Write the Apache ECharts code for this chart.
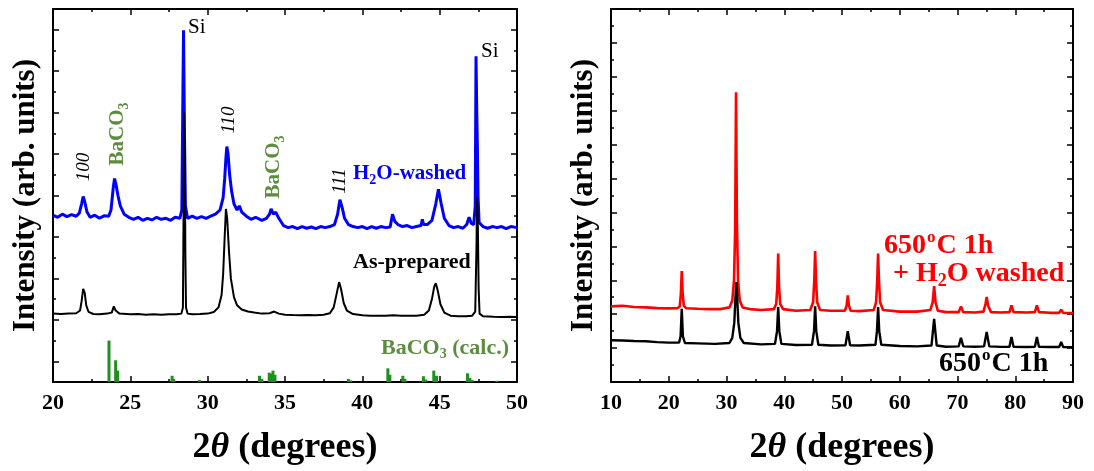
<!DOCTYPE html>
<html>
<head>
<meta charset="utf-8">
<script src="https://cdn.jsdelivr.net/npm/echarts@6/dist/echarts.min.js"></script>
<style>html,body{margin:0;background:#fff}#main{width:1094px;height:471px}</style>
</head>
<body>
<div id="main"></div>
<script>
// left panel: 2theta, intensity (arb.)
var washedLeft = [
  [20.0, 8.05], [20.3, 7.95], [20.6, 8.1], [20.9, 7.98], [21.2, 8.08], [21.5, 8.0], [21.7, 8.15], [21.85, 8.6],
  [21.95, 8.95], [22.05, 8.7], [22.2, 8.2], [22.4, 7.95], [22.7, 8.05], [23.0, 7.9], [23.3, 8.02], [23.6, 8.0],
  [23.75, 8.3], [23.9, 9.4], [23.98, 9.82], [24.08, 9.5], [24.2, 9.0], [24.35, 8.5], [24.6, 8.1], [24.9, 7.95],
  [25.2, 7.85], [25.5, 7.95], [25.8, 7.8], [26.1, 7.9], [26.4, 7.82], [26.7, 7.95], [27.0, 7.85], [27.3, 7.9],
  [27.6, 7.8], [27.9, 7.95], [28.2, 7.9], [28.33, 8.3], [28.4, 14.0], [28.44, 16.97], [28.5, 12.0], [28.56, 8.5],
  [28.7, 7.9], [29.0, 8.0], [29.3, 7.9], [29.6, 7.98], [29.9, 7.9], [30.2, 8.0], [30.5, 8.1], [30.8, 8.3],
  [31.0, 8.9], [31.1, 9.8], [31.18, 10.8], [31.24, 11.36], [31.32, 11.0], [31.42, 10.0], [31.55, 9.2], [31.7, 8.6],
  [31.9, 8.3], [32.05, 8.5], [32.2, 8.2], [32.5, 8.0], [32.8, 7.85], [33.1, 7.95], [33.5, 7.8], [33.8, 7.9],
  [34.0, 8.1], [34.1, 8.35], [34.25, 8.1], [34.4, 8.2], [34.6, 7.9], [34.9, 7.55], [35.2, 7.45], [35.5, 7.5],
  [35.8, 7.4], [36.1, 7.5], [36.4, 7.42], [36.7, 7.48], [37.0, 7.4], [37.3, 7.5], [37.6, 7.45], [37.9, 7.5],
  [38.2, 7.6], [38.4, 8.1], [38.55, 8.8], [38.7, 8.4], [38.85, 7.9], [39.1, 7.6], [39.4, 7.5], [39.7, 7.45],
  [40.0, 7.5], [40.3, 7.4], [40.6, 7.5], [40.9, 7.42], [41.2, 7.5], [41.5, 7.45], [41.8, 7.48], [41.95, 8.1],
  [42.1, 7.75], [42.3, 7.6], [42.6, 7.5], [42.9, 7.55], [43.2, 7.45], [43.5, 7.5], [43.8, 7.55], [43.88, 7.85],
  [43.96, 7.6], [44.2, 7.6], [44.5, 7.8], [44.75, 8.6], [44.92, 9.3], [45.1, 8.6], [45.3, 7.9], [45.6, 7.55],
  [45.9, 7.45], [46.2, 7.5], [46.5, 7.42], [46.75, 7.6], [46.9, 7.95], [47.05, 7.65], [47.2, 7.6], [47.3, 8.5],
  [47.35, 15.72], [47.4, 13.0], [47.44, 11.3], [47.48, 9.0], [47.55, 7.7], [47.8, 7.5], [48.1, 7.42], [48.4, 7.5],
  [48.7, 7.45], [49.0, 7.5], [49.3, 7.4], [49.6, 7.5], [50.0, 7.45]
];
var asPrepared = [
  [20.0, 3.3], [20.5, 3.28], [21.0, 3.3], [21.5, 3.32], [21.75, 3.45], [21.85, 3.9], [21.95, 4.5], [22.05, 4.3],
  [22.15, 3.7], [22.3, 3.38], [22.6, 3.28], [23.0, 3.27], [23.5, 3.3], [23.8, 3.35], [23.93, 3.65], [24.05, 3.45],
  [24.3, 3.3], [25.0, 3.27], [25.5, 3.28], [26.0, 3.25], [26.5, 3.27], [27.0, 3.25], [27.5, 3.27], [28.0, 3.27],
  [28.3, 3.3], [28.4, 3.6], [28.45, 9.0], [28.48, 13.0], [28.52, 11.0], [28.56, 6.0], [28.6, 3.6], [28.7, 3.3],
  [29.0, 3.27], [29.5, 3.28], [30.0, 3.3], [30.4, 3.38], [30.7, 3.6], [30.9, 4.2], [31.0, 5.2], [31.1, 7.0],
  [31.18, 8.35], [31.26, 7.9], [31.38, 6.3], [31.5, 5.0], [31.7, 4.1], [31.9, 3.7], [32.2, 3.5], [32.6, 3.4],
  [33.0, 3.35], [33.5, 3.3], [34.0, 3.32], [34.3, 3.4], [34.6, 3.3], [35.0, 3.25], [35.5, 3.23], [36.0, 3.22],
  [36.5, 3.23], [37.0, 3.22], [37.5, 3.25], [37.9, 3.32], [38.15, 3.6], [38.35, 4.3], [38.5, 4.82], [38.62, 4.5],
  [38.8, 3.8], [39.0, 3.45], [39.4, 3.28], [40.0, 3.22], [40.5, 3.2], [41.0, 3.2], [41.5, 3.2], [42.0, 3.22],
  [42.5, 3.2], [43.0, 3.2], [43.5, 3.2], [44.0, 3.25], [44.3, 3.45], [44.5, 4.0], [44.65, 4.6], [44.75, 4.77],
  [44.88, 4.4], [45.05, 3.75], [45.3, 3.35], [45.7, 3.2], [46.2, 3.17], [46.7, 3.17], [47.1, 3.2], [47.3, 3.4],
  [47.38, 6.5], [47.42, 8.9], [47.47, 7.5], [47.52, 4.5], [47.58, 3.3], [47.8, 3.17], [48.5, 3.15], [49.0, 3.14],
  [49.5, 3.15], [50.0, 3.14]
];
var bacoCalc = [
  [23.62, 2.0], [24.05, 1.05], [24.18, 0.55], [27.7, 0.3], [27.8, 0.15], [29.47, 0.1], [33.35, 0.3], [33.5, 0.15],
  [33.98, 0.45], [34.1, 0.4], [34.22, 0.55], [34.35, 0.35], [39.1, 0.15], [39.25, 0.08], [41.65, 0.66], [41.78, 0.35],
  [42.62, 0.3], [42.75, 0.15], [43.95, 0.28], [44.1, 0.12], [44.62, 0.55], [44.8, 0.3], [46.8, 0.42], [46.95, 0.2],
  [47.1, 0.1], [48.7, 0.06]
];
// right panel
var annealedWashed = [
  [10, 4.46], [12, 4.5], [14, 4.42], [16, 4.4], [18, 4.36], [20, 4.34], [21.5, 4.35], [21.9, 4.45], [22.1, 5.2],
  [22.25, 6.54], [22.4, 5.3], [22.6, 4.5], [23, 4.35], [25, 4.32], [27, 4.3], [29, 4.3], [30.5, 4.4], [31.0, 4.8],
  [31.3, 6.0], [31.5, 9.0], [31.65, 17.09], [31.8, 9.5], [32.0, 6.0], [32.3, 4.8], [32.8, 4.4], [34, 4.3],
  [36, 4.25], [38.2, 4.3], [38.6, 4.6], [38.8, 5.6], [38.95, 7.57], [39.1, 5.6], [39.3, 4.6], [39.8, 4.3], [42, 4.2],
  [44.5, 4.25], [45.0, 4.7], [45.2, 6.0], [45.35, 7.72], [45.5, 6.0], [45.7, 4.7], [46.2, 4.25], [48, 4.2],
  [50.5, 4.2], [50.8, 4.5], [51.0, 5.11], [51.2, 4.5], [51.5, 4.2], [53, 4.18], [55.5, 4.25], [55.9, 4.7],
  [56.1, 6.0], [56.25, 7.57], [56.4, 6.0], [56.6, 4.7], [57.1, 4.25], [60, 4.15], [63, 4.15], [65.3, 4.25],
  [65.7, 4.7], [65.95, 5.66], [66.2, 4.7], [66.6, 4.2], [68, 4.12], [70.2, 4.12], [70.6, 4.46], [71.0, 4.12],
  [73, 4.1], [74.5, 4.15], [74.85, 4.6], [75.05, 5.01], [75.3, 4.5], [75.8, 4.12], [77.5, 4.1], [79.0, 4.12],
  [79.35, 4.52], [79.7, 4.12], [82, 4.1], [83.4, 4.12], [83.75, 4.52], [84.1, 4.12], [86, 4.08], [87.6, 4.08],
  [87.95, 4.27], [88.3, 4.08], [90, 4.07]
];
var annealed = [
  [10, 2.46], [12, 2.45], [14, 2.42], [16, 2.4], [18, 2.35], [20, 2.32], [21.8, 2.33], [22.05, 2.7], [22.25, 4.32],
  [22.45, 2.7], [22.8, 2.3], [25, 2.28], [28, 2.25], [30.5, 2.3], [31.0, 2.6], [31.35, 3.5], [31.55, 5.0],
  [31.7, 5.9], [31.85, 5.0], [32.05, 3.5], [32.4, 2.6], [33, 2.3], [36, 2.22], [38.4, 2.25], [38.75, 3.0],
  [38.95, 4.42], [39.15, 3.0], [39.5, 2.25], [42, 2.18], [44.8, 2.2], [45.15, 3.0], [45.35, 4.46], [45.55, 3.0],
  [45.9, 2.2], [48, 2.15], [50.6, 2.17], [51.0, 3.0], [51.4, 2.17], [53, 2.15], [55.8, 2.2], [56.05, 3.0],
  [56.25, 4.42], [56.45, 3.0], [56.8, 2.2], [60, 2.12], [63, 2.1], [65.5, 2.15], [65.95, 3.73], [66.4, 2.15],
  [68, 2.08], [70.2, 2.1], [70.6, 2.6], [71.0, 2.1], [73, 2.08], [74.6, 2.1], [75.05, 2.95], [75.5, 2.1],
  [77.5, 2.07], [79.0, 2.08], [79.35, 2.65], [79.7, 2.08], [82, 2.06], [83.4, 2.08], [83.75, 2.65], [84.1, 2.08],
  [86, 2.06], [87.6, 2.06], [87.95, 2.36], [88.3, 2.06], [90, 2.05]
];
var leftMajorTicks = [1, 3, 5, 7, 9, 11, 13, 15, 17];

var serif = '"Liberation Serif", "Times New Roman", serif';
var olive = '#5e8c3e';
var tickStyle = {color: '#000', width: 1.5};
var frame = {onZero: false, lineStyle: {color: '#000', width: 2}};

function xAxes(grid, min, max, step) {
  var base = {
    gridIndex: grid, type: 'value', min: min, max: max, interval: step,
    axisLine: frame,
    axisTick: {inside: true, length: 6, lineStyle: tickStyle},
    minorTick: {show: true, splitNumber: 2, length: 3, lineStyle: tickStyle},
    splitLine: {show: false}
  };
  var bottom = Object.assign({}, base, {
    position: 'bottom',
    axisLabel: {margin: 10, color: '#000', fontFamily: serif, fontWeight: 'bold', fontSize: 22},
    name: '{n|2}{t|θ}{n| (degrees)}', nameLocation: 'middle', nameGap: 48,
    nameTextStyle: {rich: {
      n: {fontFamily: serif, fontWeight: 'bold', fontSize: 36, color: '#000'},
      t: {fontFamily: serif, fontWeight: 'bold', fontStyle: 'italic', fontSize: 36, color: '#000'}
    }}
  });
  var top = Object.assign({}, base, {position: 'top', axisLabel: {show: false}});
  return [bottom, top];
}

function yName() {
  return {
    name: 'Intensity (arb. units)', nameLocation: 'middle', nameGap: 12, nameRotate: 90,
    nameTextStyle: {fontFamily: serif, fontWeight: 'bold', fontSize: 31, color: '#000'}
  };
}

var yAxes = [];
// left panel: minor ticks each unit, major at odd units, both sides
['left', 'right'].forEach(function (pos) {
  yAxes.push(Object.assign({
    gridIndex: 0, type: 'value', position: pos, min: 0, max: 18, interval: 1,
    axisLine: frame, axisLabel: {show: false}, splitLine: {show: false},
    axisTick: {inside: true, length: 3, lineStyle: tickStyle}
  }, pos === 'left' ? yName() : {}));
  yAxes.push({
    gridIndex: 0, type: 'value', position: pos, min: 0, max: 18,
    axisLine: {show: false}, axisLabel: {show: false}, splitLine: {show: false},
    axisTick: {inside: true, length: 6, lineStyle: tickStyle, customValues: leftMajorTicks}
  });
});
// right panel
['left', 'right'].forEach(function (pos) {
  yAxes.push(Object.assign({
    gridIndex: 1, type: 'value', position: pos, min: 0, max: 22, interval: 2,
    axisLine: frame, axisLabel: {show: false}, splitLine: {show: false},
    axisTick: {inside: true, length: 6, lineStyle: tickStyle},
    minorTick: {show: true, splitNumber: 2, length: 3, lineStyle: tickStyle}
  }, pos === 'left' ? yName() : {}));
});

function line(data, color, width, xi, yi) {
  return {
    type: 'line', data: data, xAxisIndex: xi, yAxisIndex: yi, showSymbol: false, symbol: 'none',
    lineStyle: {color: color, width: width}, silent: true
  };
}

function label(x, y, text, opts) {
  opts = opts || {};
  var size = opts.size || 20;
  var color = opts.color || '#000';
  var weight = opts.weight || 'bold';
  var style = opts.italic ? 'italic' : 'normal';
  return {
    type: 'text', x: x, y: y, rotation: opts.rot ? Math.PI / 2 : 0, z: 100,
    style: {
      text: text, fill: color,
      font: style + ' ' + weight + ' ' + size + 'px ' + serif,
      align: opts.align || 'left', verticalAlign: 'middle',
      textAlign: opts.align || 'left', textVerticalAlign: 'middle',
      rich: {
        a: {fontFamily: serif, fontWeight: weight, fontSize: size, fill: color, color: color},
        s: {fontFamily: serif, fontWeight: weight, fontSize: Math.round(size * 0.65), fill: color, color: color,
            padding: [Math.round(size * 0.55), 0, 0, 0]},
        o: {fontFamily: serif, fontWeight: weight, fontSize: Math.round(size * 0.6), fill: color, color: color,
            padding: [0, 1, Math.round(size * 0.6), 1]}
      }
    }
  };
}

var chart = echarts.init(document.getElementById('main'));
chart.setOption({
  animation: false,
  backgroundColor: '#fff',
  grid: [
    {left: 53, right: 577, top: 9, bottom: 89},
    {left: 611, right: 21, top: 9, bottom: 89}
  ],
  xAxis: xAxes(0, 20, 50, 5).concat(xAxes(1, 10, 90, 10)),
  yAxis: yAxes,
  series: [
    line(washedLeft, '#0000ff', 3, 0, 0),
    line(asPrepared, '#000', 2, 0, 0),
    {type: 'bar', data: bacoCalc, xAxisIndex: 0, yAxisIndex: 0, barWidth: 3,
     itemStyle: {color: '#1f8f1f'}, silent: true},
    line(annealedWashed, '#ff0000', 2.6, 2, 4),
    line(annealed, '#000', 2.4, 2, 4)
  ],
  graphic: [
    label(84, 167, '100', {italic: true, weight: 'normal', size: 19, rot: true, align: 'center'}),
    label(118, 134, '{a|BaCO}{s|3}', {color: olive, size: 21, rot: true, align: 'center'}),
    label(188, 27, 'Si', {weight: 'normal', size: 21}),
    label(229, 120, '110', {italic: true, weight: 'normal', size: 19, rot: true, align: 'center'}),
    label(274, 167, '{a|BaCO}{s|3}', {color: olive, size: 21, rot: true, align: 'center'}),
    label(340, 181, '111', {italic: true, weight: 'normal', size: 19, rot: true, align: 'center'}),
    label(353, 174, '{a|H}{s|2}{a|O-washed}', {color: '#0000ff', size: 21}),
    label(481, 51, 'Si', {weight: 'normal', size: 21}),
    label(353, 262, 'As-prepared', {size: 22}),
    label(381, 348, '{a|BaCO}{s|3}{a| (calc.)}', {color: olive, size: 22}),
    label(884, 246, '{a|650}{o|o}{a|C 1h}', {color: '#ff0000', size: 28}),
    label(893, 274, '{a|+ H}{s|2}{a|O washed}', {color: '#ff0000', size: 28}),
    label(939, 364, '{a|650}{o|o}{a|C 1h}', {size: 28})
  ]
});
</script>
</body>
</html>
